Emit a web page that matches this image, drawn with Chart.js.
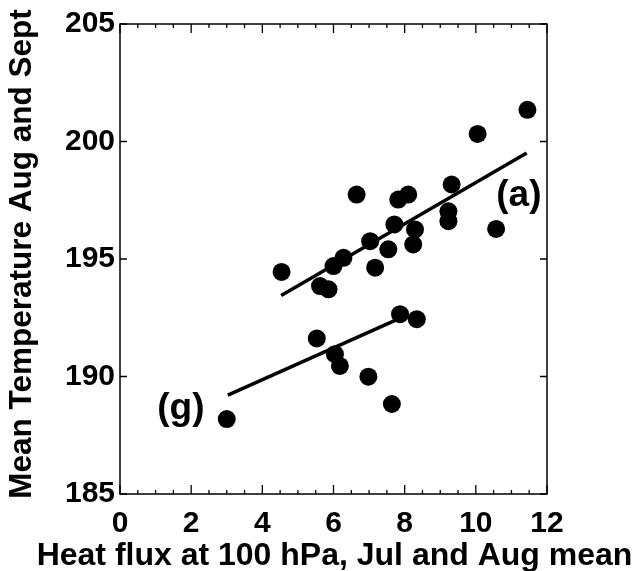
<!DOCTYPE html>
<html>
<head>
<meta charset="utf-8">
<script src="https://cdn.jsdelivr.net/npm/chart.js@4/dist/chart.umd.min.js"></script>
<style>
  html, body { margin: 0; padding: 0; background: #fff; }
  #wrap { width: 636px; height: 571px; }
</style>
</head>
<body>
<div id="wrap"><canvas id="c" width="636" height="571"></canvas></div>
<script>
// ---- data ----
const aFlux = [11.45, 10.05, 6.65, 7.82, 8.10, 9.32, 9.23, 9.23, 10.57, 7.71, 8.29, 8.24, 7.03, 7.54, 7.17, 6.28, 6.00, 5.62, 5.86, 4.54];
const aTemp = [201.35, 200.32, 197.74, 197.53, 197.74, 198.17, 197.03, 196.61, 196.28, 196.47, 196.26, 195.62, 195.76, 195.41, 194.63, 195.05, 194.70, 193.85, 193.71, 194.45];
const gFlux = [7.87, 8.34, 5.53, 6.04, 6.18, 6.98, 7.64, 3.00];
const gTemp = [192.65, 192.44, 191.62, 190.95, 190.45, 189.99, 188.83, 188.19];
const fitAFlux = [4.53, 11.43];
const fitATemp = [193.45, 199.51];
const fitGFlux = [3.03, 7.81];
const fitGTemp = [189.21, 192.44];
const xTickValues = [0, 2, 4, 6, 8, 10, 12];
const yTickValues = [185, 190, 195, 200, 205];
const groupLabels = ['(a)', '(g)'];
const xTitle = 'Heat flux at 100 hPa, Jul and Aug mean';
const yTitle = 'Mean Temperature Aug and Sept';

const pts = (xs, ys) => xs.map((v, i) => ({ x: v, y: ys[i] }));
const FONT = "'Liberation Sans', Arial, Helvetica, sans-serif";

const boxPlugin = {
  id: 'boxTicks',
  afterDraw(chart) {
    const { ctx, chartArea: ca, scales: { x, y } } = chart;
    const o = chart.options.plugins.boxTicks;
    ctx.save();
    ctx.strokeStyle = '#000';
    ctx.lineWidth = 1.5;
    ctx.strokeRect(ca.left, ca.top, ca.right - ca.left, ca.bottom - ca.top);
    ctx.lineWidth = 1.3;
    for (let v = x.min; v <= x.max + 1e-9; v += 0.5) {
      const px = x.getPixelForValue(v);
      const len = (Math.abs(v % 2) < 1e-9) ? 9 : 4;
      ctx.beginPath();
      ctx.moveTo(px, ca.bottom); ctx.lineTo(px, ca.bottom - len);
      ctx.moveTo(px, ca.top); ctx.lineTo(px, ca.top + len);
      ctx.stroke();
    }
    yTickValues.forEach(v => {
      const py = y.getPixelForValue(v);
      ctx.beginPath();
      ctx.moveTo(ca.left, py); ctx.lineTo(ca.left + 7, py);
      ctx.moveTo(ca.right, py); ctx.lineTo(ca.right - 7, py);
      ctx.stroke();
    });
    ctx.fillStyle = '#000';
    // group labels
    ctx.font = 'bold 37px ' + FONT;
    ctx.textAlign = 'center';
    ctx.textBaseline = 'middle';
    groupLabels.forEach((t, i) => {
      ctx.fillText(t, x.getPixelForValue(o.anchors[i][0]), y.getPixelForValue(o.anchors[i][1]));
    });
    // axis titles (drawn without width compression)
    ctx.font = 'bold 32px ' + FONT;
    ctx.textBaseline = 'alphabetic';
    ctx.fillText(xTitle, (ca.left + ca.right) / 2 + 1, 565);
    ctx.save();
    ctx.translate(31, (ca.top + ca.bottom) / 2 - 5);
    ctx.rotate(-Math.PI / 2);
    ctx.font = 'bold 31.5px ' + FONT;
    ctx.fillText(yTitle, 0, 0);
    ctx.restore();
    ctx.restore();
  }
};

new Chart(document.getElementById('c'), {
  type: 'scatter',
  data: {
    datasets: [
      { data: pts(aFlux, aTemp), backgroundColor: '#000', borderWidth: 0, pointRadius: 9, pointHoverRadius: 9 },
      { data: pts(gFlux, gTemp), backgroundColor: '#000', borderWidth: 0, pointRadius: 9, pointHoverRadius: 9 },
      { data: pts(fitAFlux, fitATemp), showLine: true, borderColor: '#000', borderWidth: 3.5, pointRadius: 0, fill: false },
      { data: pts(fitGFlux, fitGTemp), showLine: true, borderColor: '#000', borderWidth: 3.5, pointRadius: 0, fill: false }
    ]
  },
  options: {
    responsive: false,
    animation: false,
    events: [],
    layout: { padding: { top: 24, right: 89, left: 0, bottom: 0 } },
    plugins: {
      legend: { display: false },
      tooltip: { enabled: false },
      boxTicks: { anchors: [[11.21, 197.7], [1.71, 188.62]] }
    },
    scales: {
      x: {
        type: 'linear', min: 0, max: 12,
        afterBuildTicks: s => { s.ticks = xTickValues.map(v => ({ value: v })); },
        afterFit: s => { s.height = 77; },
        grid: { display: false, drawTicks: false },
        border: { display: false },
        ticks: { color: '#000', padding: 12, font: { family: FONT, size: 30, weight: 'bold' }, maxRotation: 0 },
        title: { display: false }
      },
      y: {
        type: 'linear', min: 185, max: 205,
        afterBuildTicks: s => { s.ticks = yTickValues.map(v => ({ value: v })); },
        afterFit: s => { s.width = 120; },
        grid: { display: false, drawTicks: false },
        border: { display: false },
        ticks: { color: '#000', padding: 5, font: { family: FONT, size: 30, weight: 'bold' } },
        title: { display: false }
      }
    }
  },
  plugins: [boxPlugin]
});
</script>
</body>
</html>
